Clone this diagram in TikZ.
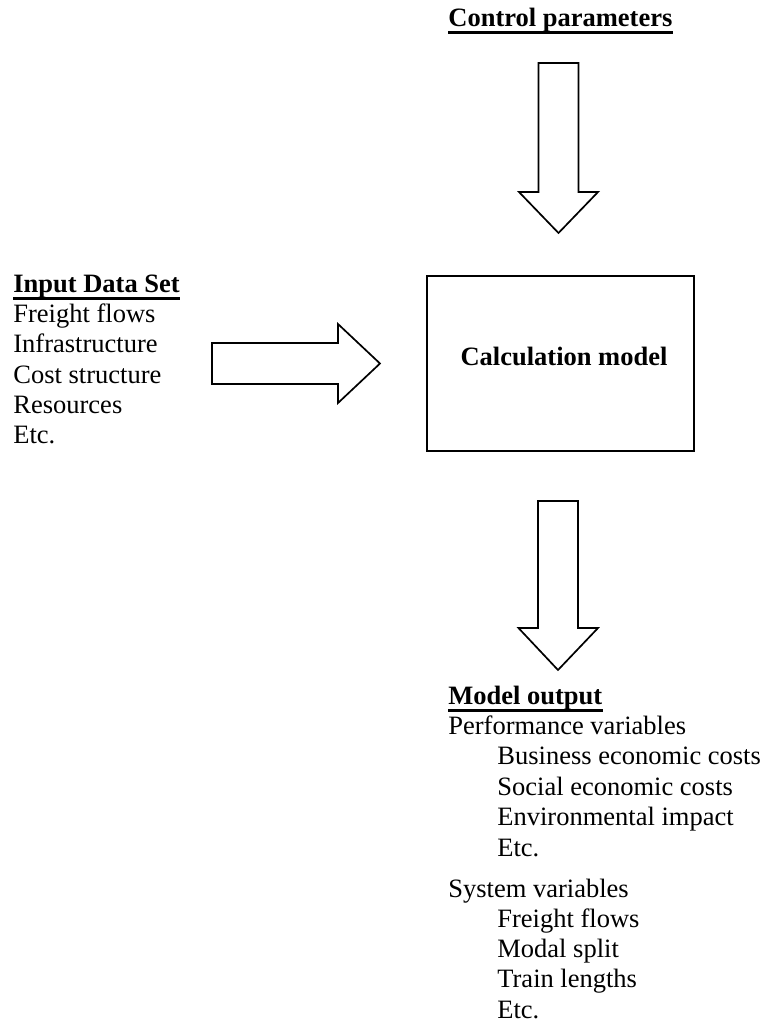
\documentclass[tikz,border=0pt]{standalone}
\usepackage{fontspec}
\setmainfont{Liberation Serif}
\usetikzlibrary{calc}
\begin{document}
\begin{tikzpicture}[x=0.5pt,y=-0.5pt,
  plain/.style={anchor=base west, inner sep=0pt, font=\fontsize{13.25}{15}\selectfont},
  heading/.style={plain, font=\fontsize{13.25}{15}\selectfont\bfseries},
  rule/.style={line width=1.5pt, line cap=butt},
  blockarrow/.style={draw=black, line width=0.85pt, line join=miter, fill=white},
  modelbox/.style={draw=black, line width=1.35pt, inner sep=0pt,
    minimum width=133.5pt, minimum height=87.5pt}]
\useasboundingbox (0,0) rectangle (764,1025);

% central model box
\node[modelbox] (model) at (560.5,363.5) {};
\node[heading, anchor=base] (modeltext) at (564,365) {Calculation model};

% control parameters (top)
\node[heading] (ctrl) at (448,26) {Control parameters};
\draw[rule] ($(ctrl.base west)+(0,6)$) -- ($(ctrl.base east)+(0,6)$);

% input data set (left)
\node[heading] (input) at (13,292.5) {Input Data Set};
\draw[rule] ($(input.base west)+(0,6)$) -- ($(input.base east)+(0,6)$);
\foreach \t [count=\i] in {Freight flows, Infrastructure, Cost structure, Resources, Etc.}
  \node[plain] (in\i) at (13,{292.5+30.2*\i}) {\t};

% model output (bottom)
\node[heading] (out) at (448,704) {Model output};
\draw[rule] ($(out.base west)+(0,6)$) -- ($(out.base east)+(0,6)$);
\node[plain] (perf) at (448,734) {Performance variables};
\foreach \t [count=\i] in {Business economic costs, Social economic costs, Environmental impact, Etc.}
  \node[plain] (perf\i) at (497,{734+30.5*\i}) {\t};
\node[plain] (sys) at (448,897) {System variables};
\foreach \t [count=\i] in {Freight flows, Modal split, Train lengths, Etc.}
  \node[plain] (sys\i) at (497,{897+30.3*\i}) {\t};

% block arrows into and out of the model
\draw[blockarrow] (538.5,63) -- (578.5,63) -- (578.5,192) -- (598,192)
  -- (558.5,233) -- (519,192) -- (538.5,192) -- cycle;
\draw[blockarrow] (212,343) -- (338,343) -- (338,324) -- (380,363.5)
  -- (338,403) -- (338,384) -- (212,384) -- cycle;
\draw[blockarrow] (538,501) -- (578,501) -- (578,628) -- (598,628)
  -- (558,670) -- (518.5,628) -- (538,628) -- cycle;
\end{tikzpicture}
\end{document}
